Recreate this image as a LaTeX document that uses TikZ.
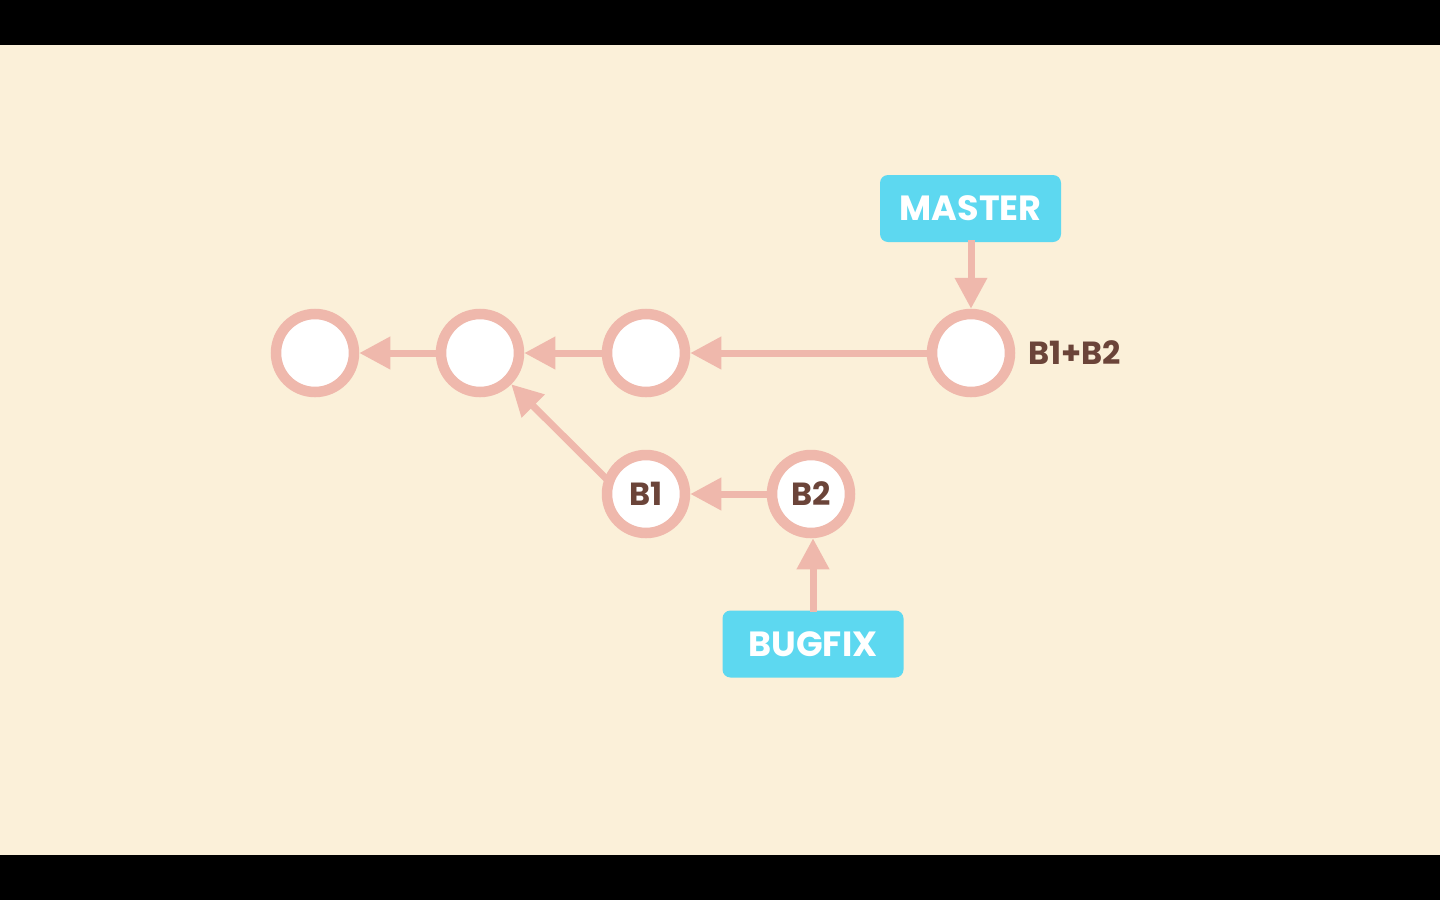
\documentclass[tikz,border=0pt]{standalone}
\usepackage{fontspec}
\setmainfont{Poppins}
\usetikzlibrary{arrows.meta}
\definecolor{bgc}{HTML}{FBF0D9}
\definecolor{ring}{HTML}{EFB8AC}
\definecolor{cyanbox}{HTML}{5DD8F0}
\definecolor{brownt}{HTML}{6B4439}
\tikzset{
  commit/.style={circle, draw=ring, fill=white, line width=5.25pt, minimum size=39pt, inner sep=0pt,
    font=\fontsize{16}{18}\selectfont\bfseries, text=brownt},
  branchbox/.style={rectangle, fill=cyanbox, rounded corners=4pt, minimum width=90.5pt, minimum height=33.5pt,
    inner sep=0pt, font=\fontsize{17.5}{20}\selectfont\bfseries, text=white},
  link/.style={draw=ring, line width=3.5pt, -{Triangle[length=15.5pt,width=15.5pt]}, shorten <=-1pt},
  lbl/.style={font=\fontsize{16}{18}\selectfont\bfseries, text=brownt, inner sep=0pt, anchor=west}
}
\begin{document}
\begin{tikzpicture}[x=0.5pt,y=-0.5pt]
\fill[black] (0,0) rectangle (1440,900);
\fill[bgc] (0,45) rectangle (1440,855);
\useasboundingbox (0,0) rectangle (1440,900);
\node[commit] (c1) at (315,353) {};
\node[commit] (c2) at (480,353) {};
\node[commit] (c3) at (646,353) {};
\node[commit] (c4) at (971,353) {};
\node[commit] (b1) at (646,494) {B1};
\node[commit] (b2) at (811,494) {B2};
\node[lbl] (m) at (1028,353) {B1+B2};
\node[branchbox] (master) at (970.5,208.5) {MASTER};
\node[branchbox] (bugfix) at (813,644) {BUGFIX};
\draw[link] (c2) -- (c1);
\draw[link] (c3) -- (c2);
\draw[link] (c4) -- (c3);
\draw[link] (b1.158) -- (c2.-45);
\draw[link] (b2) -- (b1);
\draw[link] (master.south -| c4) -- (c4);
\draw[link] (bugfix.north) -- (bugfix.north |- b2.south);
\end{tikzpicture}
\end{document}
